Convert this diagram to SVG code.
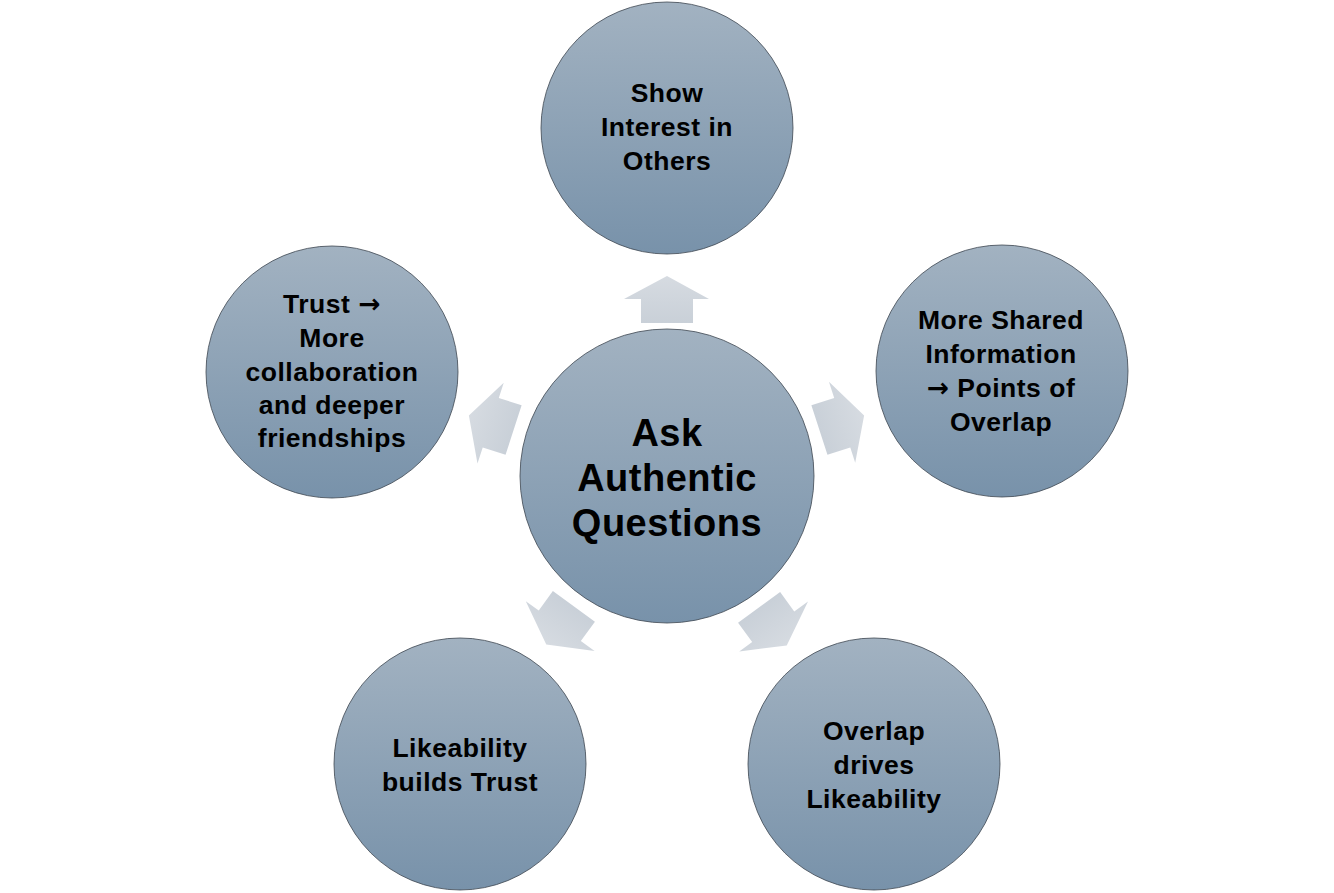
<svg xmlns="http://www.w3.org/2000/svg" width="1334" height="893" viewBox="0 0 1334 893">
<defs>
<linearGradient id="cg" x1="0" y1="0" x2="0" y2="1">
<stop offset="0" stop-color="#a2b2c1"/>
<stop offset="1" stop-color="#7892aa"/>
</linearGradient>
<linearGradient id="ag" x1="0" y1="0" x2="0" y2="1">
<stop offset="0" stop-color="#d6dbe1"/>
<stop offset="1" stop-color="#c9d0d8"/>
</linearGradient>
<polygon id="arr" class="a" points="667,276 709,299 693,299 693,323 641,323 641,299 624,299"/>
</defs>
<style>
.c{fill:url(#cg);stroke:#3d4650;stroke-width:0.8}
.a{fill:url(#ag)}
text{font-family:"Liberation Sans",Arial,sans-serif;font-weight:700;fill:#000;text-anchor:middle}
.s{font-size:26.5px;letter-spacing:0.5px}
.b{font-size:38px;letter-spacing:0.5px}
.ar{font-family:"DejaVu Sans",sans-serif;font-weight:700}
</style>
<rect width="1334" height="893" fill="#fff"/>
<g id="connectors">
<use href="#arr"/>
<use href="#arr" transform="translate(5 0) rotate(72 667 478)"/>
<use href="#arr" transform="translate(1 4) rotate(144 667 478)"/>
<use href="#arr" transform="translate(-2 3) rotate(216 667 478)"/>
<use href="#arr" transform="translate(-6 0) rotate(288 667 478)"/>
</g>
<g id="center">
<circle class="c" cx="667" cy="476" r="147"/>
<text class="b" x="667" y="446">Ask</text>
<text class="b" x="667" y="491">Authentic</text>
<text class="b" x="667" y="536">Questions</text>
</g>
<g id="top">
<circle class="c" cx="667" cy="128" r="126"/>
<text class="s" x="667" y="102">Show</text>
<text class="s" x="667" y="136">Interest in</text>
<text class="s" x="667" y="170">Others</text>
</g>
<g id="right">
<circle class="c" cx="1002" cy="371" r="126"/>
<text class="s" x="1001" y="329">More Shared</text>
<text class="s" x="1001" y="363">Information</text>
<text class="s" x="1001" y="397"><tspan class="ar">→</tspan> Points of</text>
<text class="s" x="1001" y="431">Overlap</text>
</g>
<g id="bottomright">
<circle class="c" cx="874" cy="764" r="126"/>
<text class="s" x="874" y="740">Overlap</text>
<text class="s" x="874" y="774">drives</text>
<text class="s" x="874" y="808">Likeability</text>
</g>
<g id="bottomleft">
<circle class="c" cx="460" cy="764" r="126"/>
<text class="s" x="460" y="757">Likeability</text>
<text class="s" x="460" y="791">builds Trust</text>
</g>
<g id="left">
<circle class="c" cx="332" cy="372" r="126"/>
<text class="s" x="332" y="313">Trust <tspan class="ar">→</tspan></text>
<text class="s" x="332" y="347">More</text>
<text class="s" x="332" y="381">collaboration</text>
<text class="s" x="332" y="414">and deeper</text>
<text class="s" x="332" y="447">friendships</text>
</g>
</svg>
